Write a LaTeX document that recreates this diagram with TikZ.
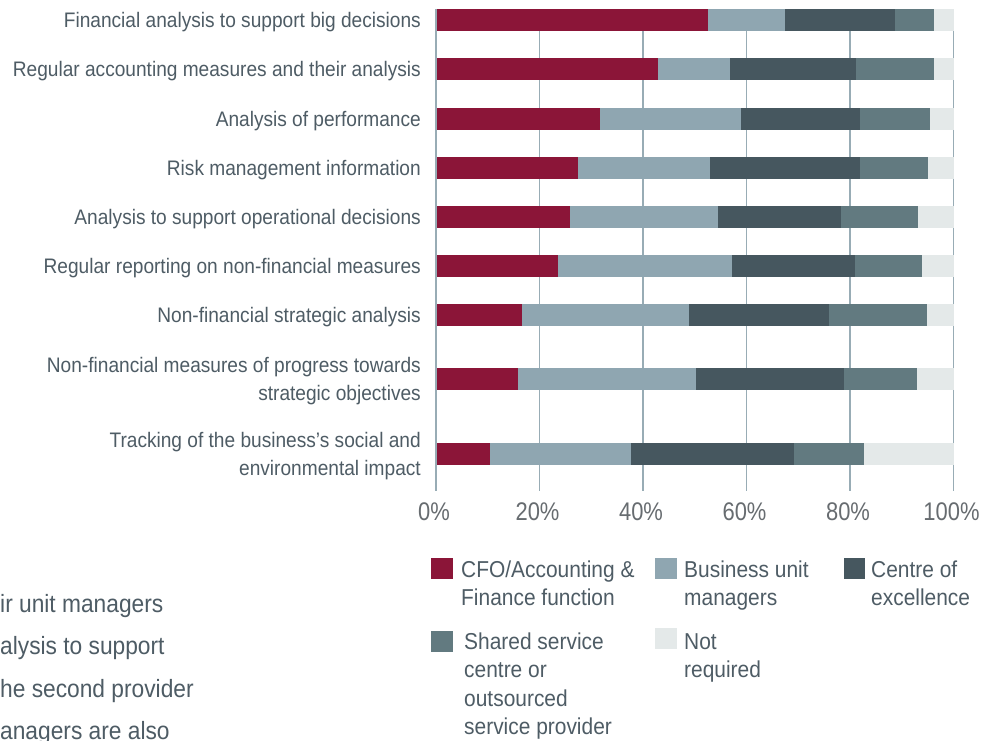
\documentclass[tikz,border=0pt]{standalone}
\usepackage{fontspec}
\setmainfont{Liberation Sans}[FakeStretch=0.91]
\newfontfamily\tickfont{Liberation Sans}[FakeStretch=0.86]
\definecolor{cfo}{HTML}{8B1538}
\definecolor{bum}{HTML}{8FA6B1}
\definecolor{coe}{HTML}{46575F}
\definecolor{ssc}{HTML}{627A80}
\definecolor{nrq}{HTML}{E4E9E9}
\definecolor{gridc}{HTML}{98ACB5}
\definecolor{txt}{HTML}{4E5C65}
\definecolor{tickc}{HTML}{676C70}
\tikzset{
  gridline/.style={draw=gridc, line width=1.8pt},
  rowlabel/.style={anchor=base east, inner sep=0pt, text=txt, font=\fontsize{21}{28}\selectfont},
  ticklabel/.style={anchor=base, inner sep=0pt, text=tickc, font=\tickfont\fontsize{25.5}{30}\selectfont},
  legtext/.style={anchor=base west, inner sep=0pt, text=txt, font=\fontsize{23}{28}\selectfont},
  bodytext/.style={anchor=base west, inner sep=0pt, text=txt, font=\fontsize{25}{30}\selectfont},
}
\begin{document}
\begin{tikzpicture}[x=1pt,y=-1pt]
\useasboundingbox (0,0) rectangle (997,740);
\fill[white] (0,0) rectangle (997,740);
% grid
\foreach \i in {0,...,5}
  \draw[gridline] ({436+103.5*\i},9) -- ({436+103.5*\i},491);
% bars
\foreach \t/\a/\b/\c/\d in {9/52.4/67.3/88.5/96.2, 58/42.8/56.7/81.0/96.2, 108/31.6/58.8/81.9/95.4, 157/27.2/52.8/81.9/95.0, 206/25.8/54.3/78.1/93.1, 255/23.4/57.1/80.8/93.9, 304/16.5/48.7/75.9/94.8, 368/15.6/50.1/78.8/92.9, 443/10.3/37.6/69.0/82.5}{
  \fill[cfo] (437,\t) rectangle ({437+5.17*\a},\t+22);
  \fill[bum] ({437+5.17*\a},\t) rectangle ({437+5.17*\b},\t+22);
  \fill[coe] ({437+5.17*\b},\t) rectangle ({437+5.17*\c},\t+22);
  \fill[ssc] ({437+5.17*\c},\t) rectangle ({437+5.17*\d},\t+22);
  \fill[nrq] ({437+5.17*\d},\t) rectangle (954,\t+22);
}
% row labels
\node[rowlabel] (l1) at (421,27.5) {Financial analysis to support big decisions};
\node[rowlabel] (l2) at (421,76.5) {Regular accounting measures and their analysis};
\node[rowlabel] (l3) at (421,126.5) {Analysis of performance};
\node[rowlabel] (l4) at (421,175.5) {Risk management information};
\node[rowlabel] (l5) at (421,224.5) {Analysis to support operational decisions};
\node[rowlabel] (l6) at (421,273.5) {Regular reporting on non-financial measures};
\node[rowlabel] (l7) at (421,322.5) {Non-financial strategic analysis};
\node[rowlabel] (l8a) at (421,372) {Non-financial measures of progress towards};
\node[rowlabel] (l8b) at (421,400) {strategic objectives};
\node[rowlabel] (l9a) at (421,447) {Tracking of the business’s social and};
\node[rowlabel] (l9b) at (421,475) {environmental impact};
% ticks
\foreach \i/\p in {0/0,1/20,2/40,3/60,4/80,5/100}
  \node[ticklabel] (t\i) at ({434+103.5*\i},520) {\p\%};
% legend
\fill[cfo] (431,558) rectangle (453,579);
\node[legtext] (g1a) at (461,577) {CFO/Accounting \&};
\node[legtext] (g1b) at (461,605) {Finance function};
\fill[bum] (655,558) rectangle (677,579);
\node[legtext] (g2a) at (684,577) {Business unit};
\node[legtext] (g2b) at (684,605) {managers};
\fill[coe] (844,558) rectangle (865,579);
\node[legtext] (g3a) at (871,577) {Centre of};
\node[legtext] (g3b) at (871,605) {excellence};
\fill[ssc] (431,631) rectangle (453,652);
\node[legtext] (g4a) at (464,649) {Shared service};
\node[legtext] (g4b) at (464,677) {centre or};
\node[legtext] (g4c) at (464,706) {outsourced};
\node[legtext] (g4d) at (464,734) {service provider};
\fill[nrq] (655,628) rectangle (677,649);
\node[legtext] (g5a) at (684,649) {Not};
\node[legtext] (g5b) at (684,677) {required};
% cut-off body text
\node[bodytext] (b1) at (0,612) {ir unit managers};
\node[bodytext] (b2) at (0,654) {alysis to support};
\node[bodytext] (b3) at (0,697) {he second provider};
\node[bodytext] (b4) at (0,739) {anagers are also};
\end{tikzpicture}
\end{document}
